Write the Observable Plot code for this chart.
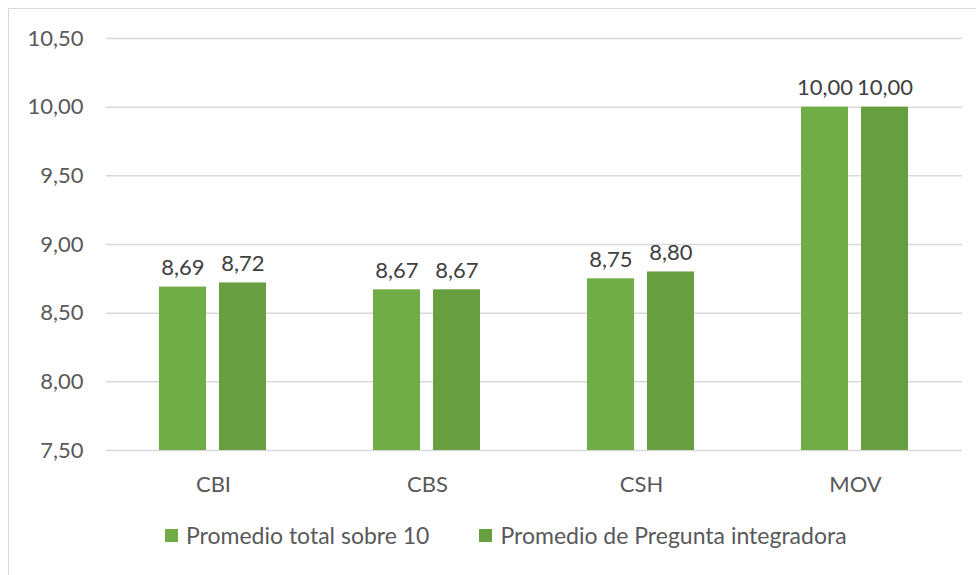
<!DOCTYPE html>
<html>
<head>
<meta charset="utf-8">
<script src="https://cdn.jsdelivr.net/npm/d3@7"></script>
<script src="https://cdn.jsdelivr.net/npm/@observablehq/plot@0.6"></script>
<style>
  html, body { margin: 0; padding: 0; background: #fff; width: 976px; height: 575px; overflow: hidden; position: relative; }
  #frame { position: absolute; left: 8px; top: 8px; width: 1000px; height: 600px; border-left: 1.5px solid #d9d9d9; border-top: 1.5px solid #d9d9d9; }
  #chart { position: absolute; left: 0; top: 0; }
  #legend { position: absolute; top: 521px; left: 165px; font-family: Lato, sans-serif; font-size: 23px; color: #595959; display: flex; }
  .item { display: flex; align-items: center; white-space: nowrap; }
  .sw { width: 13px; height: 13px; margin-right: 8px; display: inline-block; }
</style>
</head>
<body>
<div id="frame"></div>
<div id="chart"></div>
<div id="legend"></div>
<script>
const categories = ["CBI", "CBS", "CSH", "MOV"];
const seriesNames = ["Promedio total sobre 10", "Promedio de Pregunta integradora"];
const promedioTotal = [8.69, 8.67, 8.75, 10.00];
const preguntaIntegradora = [8.72, 8.67, 8.80, 10.00];
const yTicks = [7.5, 8, 8.5, 9, 9.5, 10, 10.5];
const colors = ["#70ad47", "#669e40"];

const fmt = d => d.toFixed(2).replace(".", ",");

const data = [];
categories.forEach((c, i) => {
  data.push({cat: c, series: seriesNames[0], value: promedioTotal[i]});
  data.push({cat: c, series: seriesNames[1], value: preguntaIntegradora[i]});
});

const chart = Plot.plot({
  width: 976,
  height: 510,
  marginTop: 38,
  marginBottom: 60,
  marginLeft: 104,
  marginRight: 13,
  style: {fontFamily: "Lato, sans-serif", fontSize: "22px", color: "#595959", background: "transparent"},
  fx: {domain: categories, padding: 0, label: null, axis: "bottom", tickSize: 0, tickPadding: 26},
  x: {domain: seriesNames, paddingInner: 0.213, paddingOuter: 0.867, axis: null},
  y: {domain: [7.5, 10.5], ticks: yTicks, tickFormat: fmt, tickSize: 0, tickPadding: 23, label: null},
  color: {domain: seriesNames, range: colors},
  facet: {data: data, x: "cat"},
  marks: [
    Plot.ruleY(yTicks, {stroke: "#d9d9d9", strokeWidth: 1.5}),
    Plot.barY(data, {x: "series", y1: 7.5, y2: "value", fill: "series"}),
    Plot.text(data, {x: "series", y: "value", text: d => fmt(d.value), dy: -12, lineAnchor: "bottom", fill: "#404040", fontSize: 22})
  ]
});
document.getElementById("chart").appendChild(chart);

const legend = document.getElementById("legend");
seriesNames.forEach((s, i) => {
  const it = document.createElement("div");
  it.className = "item";
  if (i > 0) it.style.marginLeft = "50px";
  const sw = document.createElement("span");
  sw.className = "sw";
  sw.style.background = colors[i];
  it.appendChild(sw);
  it.appendChild(document.createTextNode(s));
  legend.appendChild(it);
});
</script>
</body>
</html>
